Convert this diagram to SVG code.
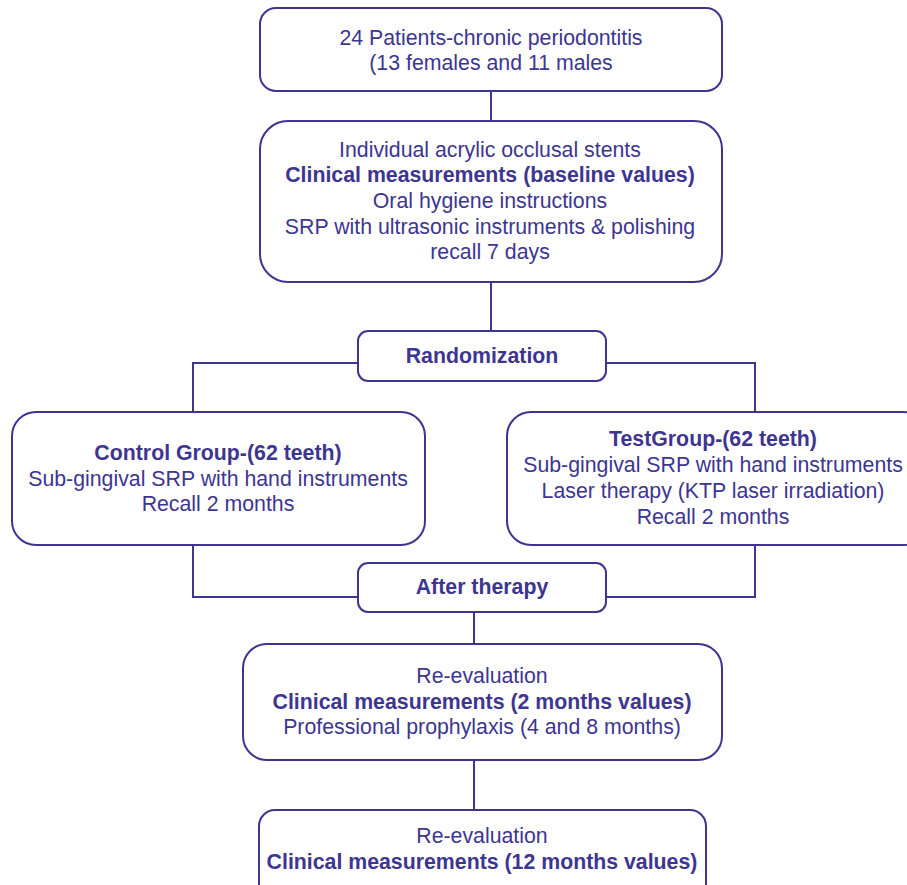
<svg xmlns="http://www.w3.org/2000/svg" width="907" height="885" viewBox="0 0 907 885">
<style>
.box{fill:#fff;stroke:#3d3590;stroke-width:2}
.ln{fill:none;stroke:#3d3590;stroke-width:2}
text{font-family:"Liberation Sans",Arial,sans-serif;font-size:21.3px;fill:#3d3590;text-anchor:middle}
.b{font-weight:bold}
</style>
<rect width="907" height="885" fill="#fff"/>
<g id="connectors">
<path class="ln" d="M491 91V121"/>
<path class="ln" d="M491 282V331"/>
<path class="ln" d="M358 363H193V412"/>
<path class="ln" d="M606 363H755V412"/>
<path class="ln" d="M193 545V597H358"/>
<path class="ln" d="M755 545V597H606"/>
<path class="ln" d="M474 612V644"/>
<path class="ln" d="M474 760V810"/>
</g>
<g id="n1">
<rect class="box" x="260" y="8" width="462" height="83" rx="16"/>
<text x="491" y="45">24 Patients-chronic periodontitis</text>
<text x="491" y="70">(13 females and 11 males</text>
</g>
<g id="n2">
<rect class="box" x="260" y="121" width="462" height="161" rx="28"/>
<text x="490" y="157">Individual acrylic occlusal stents</text>
<text x="490" y="182" class="b">Clinical measurements (baseline values)</text>
<text x="490" y="208">Oral hygiene instructions</text>
<text x="490" y="234">SRP with ultrasonic instruments &amp; polishing</text>
<text x="490" y="259">recall 7 days</text>
</g>
<g id="n3">
<rect class="box" x="358" y="331" width="248" height="50" rx="10"/>
<text x="482" y="363" class="b">Randomization</text>
</g>
<g id="n4">
<rect class="box" x="12" y="412" width="413" height="133" rx="24"/>
<text x="218" y="460" class="b">Control Group-(62 teeth)</text>
<text x="218" y="486">Sub-gingival SRP with hand instruments</text>
<text x="218" y="511">Recall 2 months</text>
</g>
<g id="n5">
<rect class="box" x="507" y="412" width="420" height="133" rx="24"/>
<text x="713" y="446" class="b">TestGroup-(62 teeth)</text>
<text x="713" y="472">Sub-gingival SRP with hand instruments</text>
<text x="713" y="498">Laser therapy (KTP laser irradiation)</text>
<text x="713" y="524">Recall 2 months</text>
</g>
<g id="n6">
<rect class="box" x="358" y="563" width="248" height="49" rx="10"/>
<text x="482" y="594" class="b">After therapy</text>
</g>
<g id="n7">
<rect class="box" x="243" y="644" width="479" height="116" rx="24"/>
<text x="482" y="683">Re-evaluation</text>
<text x="482" y="709" class="b">Clinical measurements (2 months values)</text>
<text x="482" y="734">Professional prophylaxis (4 and 8 months)</text>
</g>
<g id="n8">
<rect class="box" x="259" y="810" width="447" height="90" rx="16"/>
<text x="482" y="843">Re-evaluation</text>
<text x="482" y="869" class="b">Clinical measurements (12 months values)</text>
</g>
</svg>
